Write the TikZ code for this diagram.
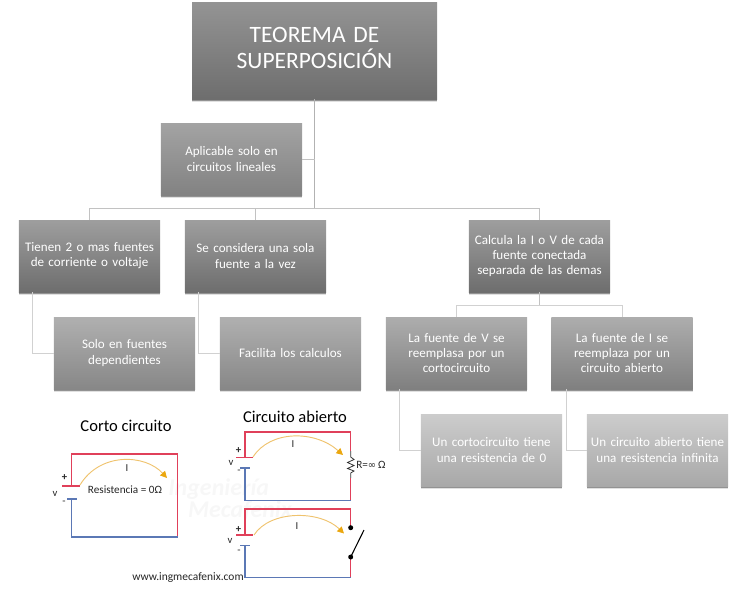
\documentclass[tikz,border=0pt]{standalone}
\usepackage{fontspec}
\setmainfont{Carlito}
\newfontfamily\dejavu{DejaVu Sans}
\usetikzlibrary{shadows,arrows.meta}
\definecolor{redw}{HTML}{E0405A}
\definecolor{bluew}{HTML}{5B78B5}
\definecolor{orgw}{HTML}{EFC36E}
\definecolor{orgt}{HTML}{EBA70F}
\tikzset{
  x=0.75pt,y=-0.75pt,
  boxbase/.style={rectangle,inner sep=0pt,outer sep=0pt,align=center,text=white,
    minimum width=106pt,minimum height=54pt,text width=104.5pt,font=\fontsize{9.8}{11.3}\selectfont,
    preaction={draw=none,fill=black,opacity=.12,transform canvas={yshift=-2.4pt}},
    preaction={draw=none,fill=black,opacity=.35,transform canvas={yshift=-1.2pt}}},
  titlebox/.style={boxbase,minimum width=183.75pt,minimum height=72.75pt,text width=180pt,
    top color=black!42,bottom color=black!57,font=\fontsize{17.6}{19}\selectfont},
  midbox/.style={boxbase,top color=black!36,bottom color=black!49},
  darkbox/.style={boxbase,top color=black!38,bottom color=black!57},
  lightbox/.style={boxbase,top color=black!31,bottom color=black!47},
  paleheadbox/.style={boxbase,top color=black!32,bottom color=black!50},
  palebox/.style={boxbase,top color=black!20,bottom color=black!34},
  trunkline/.style={draw=black!30,line width=1.2pt},
  busline/.style={draw=black!24,line width=.7pt},
  lowline/.style={draw=black!18,line width=.7pt},
  redwire/.style={draw=redw,line width=.9pt},
  bluewire/.style={draw=bluew,line width=.9pt},
  cur/.style={draw=orgw,line width=.7pt,-{Triangle[length=5pt,width=5pt,color=orgt]}},
  lab/.style={inner sep=0pt,font=\fontsize{8}{9}\selectfont,text=black!85},
  head/.style={inner sep=0pt,font=\fontsize{12.4}{13}\selectfont,text=black}
}
\begin{document}
\begin{tikzpicture}
\useasboundingbox (0,0) rectangle (739,596);
% connectors
\coordinate (busa) at (314.5,208);
\coordinate (busb) at (539.5,305);
% watermark
\node[inner sep=0pt,text=black!3,font=\itshape\bfseries\fontsize{18}{19}\selectfont,anchor=west] (wm1) at (168,489) {Ingeniería};
\node[inner sep=0pt,text=black!3,font=\itshape\bfseries\fontsize{18}{19}\selectfont] (wm2) at (240,510) {Mecafenix};
% boxes
\node[titlebox] (title) at (314.5,50.5) {\raisebox{1.5pt}{\begin{tabular}{@{}c@{}}TEOREMA DE\\[-1pt]SUPERPOSICIÓN\end{tabular}}};
\node[midbox] (aplic) at (231.5,159) {Aplicable solo en\\circuitos lineales};
\node[darkbox] (tienen) at (89.5,256) {Tienen 2 o mas fuentes\\de corriente o voltaje};
\node[darkbox] (secons) at (255.5,256) {Se considera una sola\\fuente a la vez};
\node[darkbox] (calc) at (539.5,256) {Calcula la I o V de cada\\fuente conectada\\separada de las demas};
\node[lightbox] (solo) at (124.5,353) {Solo en fuentes\\dependientes};
\node[lightbox] (facil) at (290.5,353) {Facilita los calculos};
\node[paleheadbox] (fv) at (456.5,353) {La fuente de V se\\reemplasa por un\\cortocircuito};
\node[paleheadbox] (fi) at (622,353) {La fuente de I se\\reemplaza por un\\circuito abierto};
\node[palebox] (ucc) at (491.5,450) {Un cortocircuito tiene\\una resistencia de 0};
\node[palebox] (uca) at (657.5,450) {Un circuito abierto tiene\\una resistencia infinita};
\draw[trunkline] (title.south) -- (busa);
\draw[busline] (aplic.east) -- (aplic.east -| title.south);
\draw[busline] (tienen.north) |- (busa);
\draw[busline] (secons.north) -- (secons.north |- busa);
\draw[busline] (calc.north) |- (busa);
\draw[busline] (calc.south) -- (busb);
\draw[lowline] (fv.north) |- (busb);
\draw[lowline] (fi.north) |- (busb);
\draw[lowline] ([xshift=10.5pt]tienen.south west) |- (solo.west);
\draw[lowline] ([xshift=10.5pt]secons.south west) |- (facil.west);
\draw[lowline] ([xshift=10.5pt]fv.south west) |- (ucc.west);
\draw[lowline] ([xshift=11.5pt]fi.south west) |- (uca.west);
% circuit 1
\node[head] (t1) at (126,426) {Corto circuito};
\draw[redwire] (62,486) -- (80,486);
\draw[redwire] (71.7,486) -- (71.7,454) -- (177.7,454) -- (177.7,537);
\draw[bluewire] (177.7,537) -- (71.7,537) -- (71.7,499);
\draw[bluewire] (67,499) -- (77,499);
\draw[cur] (80,485) .. controls (100,452) and (145,454) .. (167,478);
\node[lab] (p1) at (64.5,478) {\textbf{+}};
\node[lab] (v1) at (55,494) {v};
\node[lab] (m1) at (64,503) {-};
\node[lab] (i1) at (127,468) {I};
\node[lab,font=\fontsize{8.4}{9}\selectfont] (r1) at (125,489.5) {Resistencia = 0Ω};
% circuit 2
\node[head] (t2) at (295,417) {Circuito abierto};
\draw[redwire] (236,457.7) -- (253,457.7);
\draw[redwire] (245,457.7) -- (245,432) -- (350.7,432) -- (350.7,451);
\draw[draw=black!80,line width=.6pt] (350.7,451) -- (350.7,457) -- (354,459.5) -- (347.5,462.5) -- (354,465.5) -- (347.5,468.5) -- (354,471) -- (350.7,473) -- (350.7,478);
\draw[redwire] (350.7,478) -- (350.7,500.7);
\draw[bluewire] (350.7,500.7) -- (245,500.7) -- (245,468);
\draw[bluewire] (240,468) -- (250,468);
\draw[cur] (253,457) .. controls (270,430) and (315,430) .. (343,455);
\node[lab] (p2) at (238.5,451) {\textbf{+}};
\node[lab] (v2) at (231,463) {v};
\node[lab] (m2) at (239,472) {-};
\node[lab] (i2) at (293,444) {I};
\node[lab,anchor=west,font=\fontsize{8.4}{9}\selectfont] (r2) at (356,465) {R={\dejavu\fontsize{7.5}{9}\selectfont ∞}\,Ω};
% circuit 3
\draw[redwire] (236,535) -- (253,535);
\draw[redwire] (245,535) -- (245,509) -- (350.7,509) -- (350.7,527.7);
\draw[redwire] (350.7,557) -- (350.7,577.7);
\draw[bluewire] (350.7,577.7) -- (245,577.7) -- (245,545.7);
\draw[bluewire] (240,545.7) -- (250,545.7);
\draw[cur] (254,535) .. controls (270,510) and (320,510) .. (344,533.5);
\fill[black] (350.7,527.7) circle[radius=2.5];
\fill[black] (350.7,557) circle[radius=2.5];
\draw[black,line width=.8pt] (350.7,557) -- (364,530);
\node[lab] (p3) at (238.5,530) {\textbf{+}};
\node[lab] (v3) at (230,541) {v};
\node[lab] (m3) at (239,552) {-};
\node[lab] (i3) at (297,526) {I};
\node[lab,font=\fontsize{8.6}{9}\selectfont] (url) at (188,578) {www.ingmecafenix.com};
\end{tikzpicture}
\end{document}
